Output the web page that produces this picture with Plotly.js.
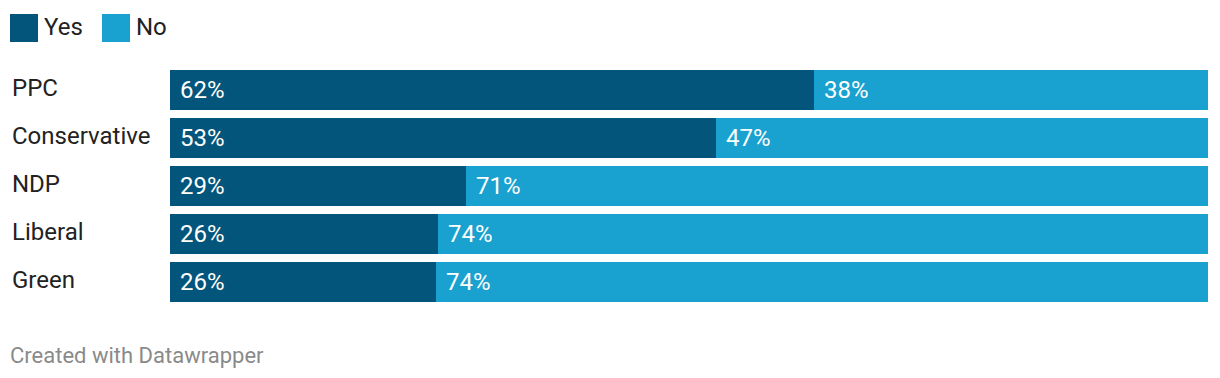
<!DOCTYPE html>
<html><head><meta charset="utf-8">
<script src="https://cdn.plot.ly/plotly-3.0.1.min.js"></script>
<style>html,body{margin:0;padding:0;background:#fff}#chart{width:1220px;height:378px}</style>
</head><body><div id="chart"></div>
<script>
const categories = ["PPC", "Conservative", "NDP", "Liberal", "Green"];
const yesValues = [62.0, 52.6, 28.5, 25.8, 25.6];
const noValues = [38.0, 47.4, 71.5, 74.2, 74.4];
const yesLabels = ["62%", "53%", "29%", "26%", "26%"];
const noLabels = ["38%", "47%", "71%", "74%", "74%"];
const seriesNames = ["Yes", "No"];
const colors = ["#03557b", "#19a2cf"];
const font = "Roboto, 'Open Sans', sans-serif";

const traces = [
  {type:"bar", orientation:"h", y:categories, x:yesValues, name:seriesNames[0],
   marker:{color:colors[0]}, hoverinfo:"x+y", showlegend:false},
  {type:"bar", orientation:"h", y:categories, x:noValues, name:seriesNames[1],
   marker:{color:colors[1]}, hoverinfo:"x+y", showlegend:false}
];

const annotations = [];
categories.forEach((c,i)=>{
  annotations.push({xref:"paper", yref:"y", x:(10-170)/1038, y:c, xanchor:"left", yanchor:"middle", yshift:2,
    text:c, showarrow:false, font:{family:font, size:24, color:"#222"}});
  annotations.push({xref:"x", yref:"y", x:0, y:c, xanchor:"left", yanchor:"middle", xshift:8,
    text:yesLabels[i], showarrow:false, font:{family:font, size:24, color:"#fff"}});
  annotations.push({xref:"x", yref:"y", x:yesValues[i], y:c, xanchor:"left", yanchor:"middle", xshift:8,
    text:noLabels[i], showarrow:false, font:{family:font, size:24, color:"#fff"}});
});
// legend
const legX = [10, 102];
const shapes = [];
seriesNames.forEach((n,i)=>{
  shapes.push({type:"rect", xref:"paper", yref:"paper",
    x0:(legX[i]-170)/1038, x1:(legX[i]+28-170)/1038,
    y0:(306-42)/240, y1:(306-14)/240, fillcolor:colors[i], line:{width:0}});
  annotations.push({xref:"paper", yref:"paper", x:(legX[i]+32-170)/1038, y:(306-27)/240,
    xanchor:"left", yanchor:"middle", text:n, showarrow:false,
    font:{family:font, size:24, color:"#222"}});
});
annotations.push({xref:"paper", yref:"paper", x:(8-170)/1038, y:(306-355)/240,
  xanchor:"left", yanchor:"middle", text:"Created with Datawrapper", showarrow:false,
  font:{family:font, size:22, color:"#8a8a8a"}});

const layout = {
  width:1220, height:378, barmode:"stack", bargap:8/48,
  margin:{l:170, r:12, t:66, b:72},
  paper_bgcolor:"#fff", plot_bgcolor:"#fff",
  xaxis:{range:[0,100], visible:false, fixedrange:true},
  yaxis:{autorange:"reversed", showticklabels:false, showgrid:false, zeroline:false, fixedrange:true},
  showlegend:false, annotations:annotations, shapes:shapes,
  font:{family:font}
};
Plotly.newPlot("chart", traces, layout, {displayModeBar:false, staticPlot:true});
</script></body></html>
